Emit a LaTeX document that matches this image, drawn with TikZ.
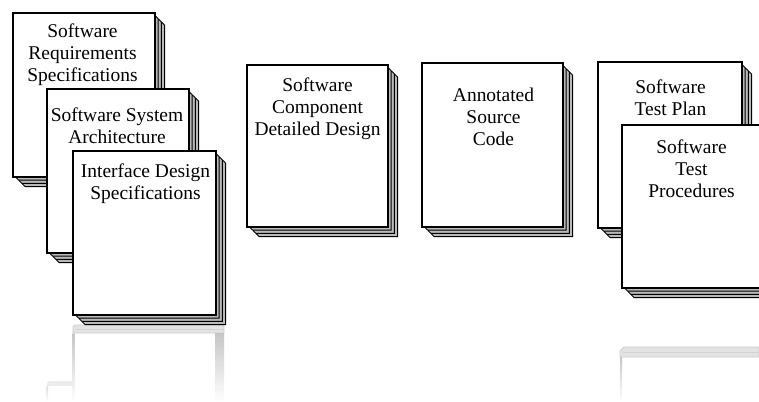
\documentclass[tikz,border=0pt]{standalone}
\usepackage{fontspec}
\setmainfont{Liberation Serif}
\usetikzlibrary{fit}
\tikzset{
  backpage/.style={draw=black, line width=0.7pt, fill=gray!55, line join=miter},
  frontpage/.style={draw=black, line width=1.1pt, fill=white, inner sep=0pt},
  doctext/.style={font=\fontsize{14.6}{16.5}\selectfont, align=center, inner sep=0pt, anchor=north},
  reflline/.style={top color=gray!45, bottom color=white, draw=none},
  reflband/.style={fill=gray!22, draw=gray!40, line width=0.6pt}
}
\newcommand\docstack[5]{%
  \foreach \k in {3,2,1}{%
    \pgfmathsetmacro\o{3.2*\k}%
    \draw[backpage] (#2+\o,#3+\o) -- (#4+\o-2.5,#3+\o) -- (#4+\o,#3+\o+2.5)
      -- (#4+\o,#5+\o) -- (#2+\o+2.5,#5+\o) -- (#2+\o,#5+\o-2.5) -- cycle;
  }%
  \node[frontpage, fit={(#2,#3) (#4,#5)}] (#1) {};%
}
\begin{document}
\begin{tikzpicture}[x=0.75pt,y=-0.75pt]
\useasboundingbox (0,0) rectangle (759,402);
\begin{scope}
\clip (0,0) rectangle (759,402);

% reflections
\fill[reflband] (75,325) -- (224,325) -- (224,333) -- (73,333) -- (73,327) -- cycle;
\draw[gray!35, line width=0.6pt] (76,329) -- (224,329);
\shade[reflline] (72.5,333) rectangle (74.3,402);
\shade[reflline] (215,333) rectangle (224,402);
\fill[gray!15] (49,381) -- (73,381) -- (73,386) -- (47,386) -- (47,383) -- cycle;
\shade[top color=gray!25, bottom color=white] (46.5,386) rectangle (48,402);
\fill[reflband] (624,347) -- (759,347) -- (759,357) -- (620,357) -- (620,351) -- cycle;
\draw[gray!35, line width=0.6pt] (623,352) -- (759,352);
\shade[reflline] (620,357) rectangle (622,402);

% documents
\docstack{d1}{13}{13}{155}{177}
\node[doctext] (t1) at (82.5,23.7) {Software\\Requirements\\Specifications};
\docstack{d2}{47}{89}{189}{253}
\node[doctext] (t2) at (117,107.7) {Software System\\Architecture};
\docstack{d3}{73}{151}{216}{315}
\node[doctext] (t3) at (145.5,163.7) {Interface Design\\Specifications};
\docstack{d4}{247}{65}{388}{227}
\node[doctext] (t4) at (317.5,77.7) {Software\\Component\\Detailed Design};
\docstack{d5}{422}{63}{563}{227}
\node[doctext] (t5) at (493.5,87.7) {Annotated\\Source\\Code};
\docstack{d6}{598}{62}{742}{228}
\node[doctext] (t6) at (670.5,79.7) {Software\\Test Plan};
\docstack{d7}{622}{125}{762}{288}
\node[doctext] (t7) at (691.5,139.7) {Software\\Test\\Procedures};
\end{scope}
\end{tikzpicture}
\end{document}
